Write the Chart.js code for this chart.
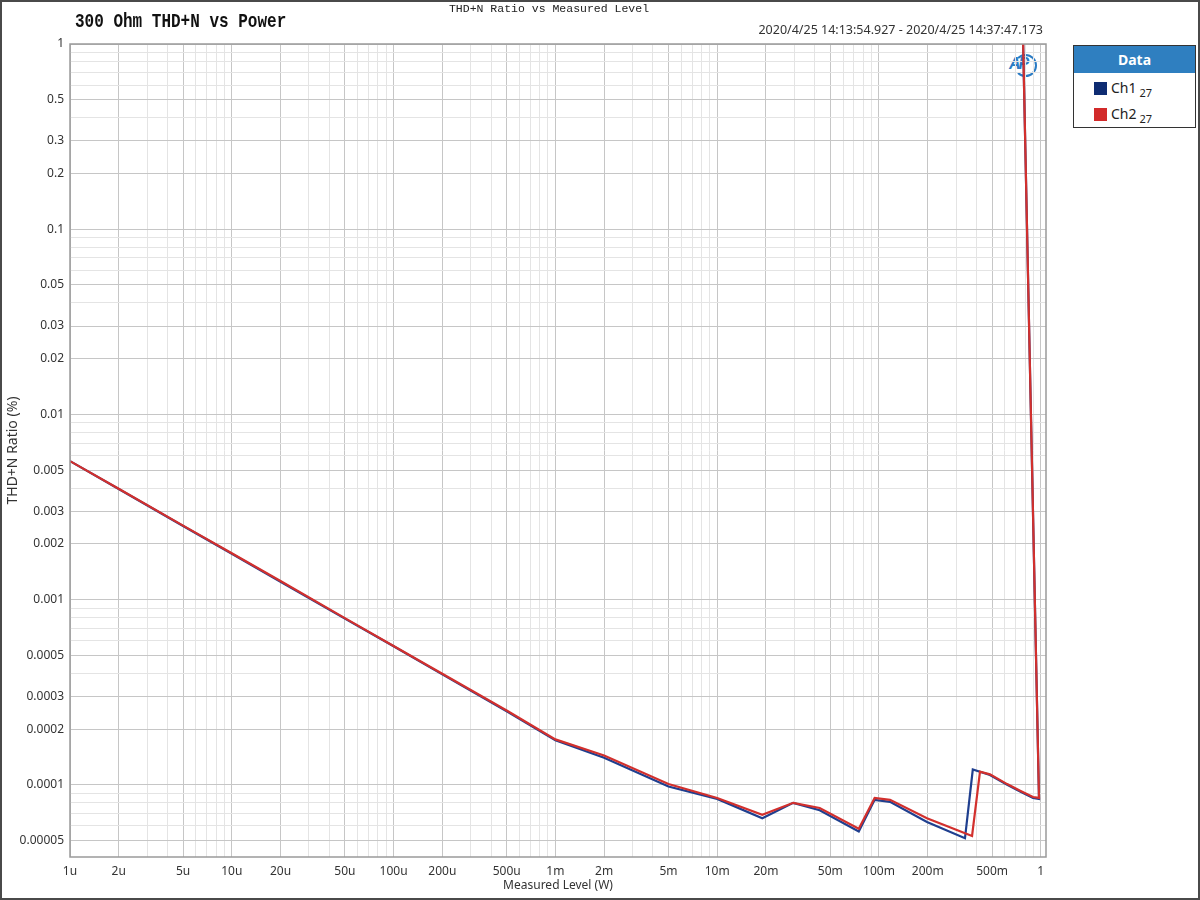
<!DOCTYPE html>
<html>
<head>
<meta charset="utf-8">
<script src="https://cdn.jsdelivr.net/npm/chart.js@4.4.1/dist/chart.umd.min.js"></script>
<style>
html,body{margin:0;padding:0;background:#fff;}
#wrap{position:relative;width:1200px;height:900px;overflow:hidden;background:#fff;}
#frame{position:absolute;left:0;top:0;width:1200px;height:900px;box-sizing:border-box;border:2px solid #4a4a4a;pointer-events:none;z-index:5;}
#c{position:absolute;left:0;top:0;z-index:2;}
.title{position:absolute;left:75px;top:11px;font:bold 16px "Liberation Mono";color:#111;white-space:nowrap;z-index:3;transform:scaleY(1.22);transform-origin:0 0;}
.subtitle{position:absolute;left:0;width:1098px;text-align:center;top:2px;font:11.5px "Liberation Mono";color:#222;white-space:nowrap;z-index:3;}
.daterange{position:absolute;right:157px;top:21px;font:12.5px "Noto Sans";color:#333;white-space:nowrap;z-index:3;}
.legend{position:absolute;left:1073px;top:45px;width:123px;height:83px;box-sizing:border-box;border:1px solid #333;background:#fff;z-index:3;font-family:"Noto Sans";}
.legend .hd{height:27px;line-height:27px;background:#2f7fc0;color:#fff;font-weight:bold;font-size:14px;text-align:center;}
.legend .row{position:absolute;left:20px;height:18px;}
.legend .sw{position:absolute;left:0;top:2px;width:13px;height:13px;}
.legend .lb{position:absolute;left:17px;top:-2px;font-size:14px;color:#222;white-space:nowrap;}
.legend .lb sub{font-size:11px;vertical-align:-4px;margin-left:3px;}
.aplogo{position:absolute;left:1009px;top:54px;width:26px;height:22px;z-index:1;}
.aplogo .ring{position:absolute;left:5px;top:0;width:19px;height:19px;border:2px solid #2a7bc4;border-left-color:transparent;border-radius:50%;}
.aplogo .tx{position:absolute;left:0;top:1px;font:italic bold 16px "Liberation Sans";color:#2a7bc4;letter-spacing:-2px;}
</style>
</head>
<body>
<div id="wrap">
  <div class="aplogo"><div class="ring"></div><div class="tx">AP</div></div>
  <canvas id="c" width="1200" height="900"></canvas>
  <div class="subtitle">THD+N Ratio vs Measured Level</div>
  <div class="title">300 Ohm THD+N vs Power</div>
  <div class="daterange">2020/4/25 14:13:54.927 - 2020/4/25 14:37:47.173</div>
  <div class="legend" id="legend"><div class="hd">Data</div></div>
  <div id="frame"></div>
</div>
<script>
// ---- data ----
const seriesNames = ['Ch1', 'Ch2'];
const seriesSub = ['27', '27'];
const seriesColors = ['#1f3f8f', '#d2302d'];
const legendColors = ['#0e2c72', '#d22a2a'];

const ch1X = [1e-6, 2e-6, 5e-6, 1e-5, 2e-5, 5e-5, 1e-4, 2e-4, 5e-4, 1e-3, 2e-3, 5e-3, 1e-2, 0.019, 0.0295, 0.043, 0.075, 0.094, 0.117, 0.198, 0.34, 0.38, 0.485, 0.62, 0.745, 0.895, 0.975, 0.74];
const ch1Y = [5.6e-3, 3.96e-3, 2.5e-3, 1.77e-3, 1.25e-3, 7.9e-4, 5.6e-4, 3.95e-4, 2.5e-4, 1.74e-4, 1.40e-4, 9.8e-5, 8.4e-5, 6.6e-5, 8.0e-5, 7.3e-5, 5.6e-5, 8.3e-5, 8.1e-5, 6.3e-5, 5.15e-5, 1.21e-4, 1.13e-4, 1.0e-4, 9.2e-5, 8.5e-5, 8.4e-5, 8.0];

const ch2X = [1e-6, 2e-6, 5e-6, 1e-5, 2e-5, 5e-5, 1e-4, 2e-4, 5e-4, 1e-3, 2e-3, 5e-3, 1e-2, 0.019, 0.0295, 0.043, 0.075, 0.094, 0.117, 0.198, 0.376, 0.421, 0.485, 0.62, 0.745, 0.895, 0.975, 0.74];
const ch2Y = [5.6e-3, 3.97e-3, 2.51e-3, 1.78e-3, 1.26e-3, 7.95e-4, 5.62e-4, 3.98e-4, 2.52e-4, 1.76e-4, 1.44e-4, 1.01e-4, 8.5e-5, 6.9e-5, 8.0e-5, 7.5e-5, 5.8e-5, 8.5e-5, 8.3e-5, 6.6e-5, 5.3e-5, 1.18e-4, 1.14e-4, 1.01e-4, 9.3e-5, 8.6e-5, 8.5e-5, 8.0];

const xTickValues = [1e-6, 2e-6, 5e-6, 1e-5, 2e-5, 5e-5, 1e-4, 2e-4, 5e-4, 1e-3, 2e-3, 5e-3, 1e-2, 2e-2, 5e-2, 0.1, 0.2, 0.5, 1];
const xTickLabels = ['1u', '2u', '5u', '10u', '20u', '50u', '100u', '200u', '500u', '1m', '2m', '5m', '10m', '20m', '50m', '100m', '200m', '500m', '1'];
const yTickValues = [1, 0.5, 0.3, 0.2, 0.1, 0.05, 0.03, 0.02, 0.01, 0.005, 0.003, 0.002, 0.001, 0.0005, 0.0003, 0.0002, 0.0001, 0.00005];
const yTickLabels = ['1', '0.5', '0.3', '0.2', '0.1', '0.05', '0.03', '0.02', '0.01', '0.005', '0.003', '0.002', '0.001', '0.0005', '0.0003', '0.0002', '0.0001', '0.00005'];

const xMin = 1e-6, xMax = 1.077;
const yMin = 4.08e-5, yMax = 1;

// ---- helpers ----
function gridValues(min, max) {
  const out = [];
  for (let e = Math.floor(Math.log10(min)); e <= Math.ceil(Math.log10(max)); e++) {
    for (let m = 1; m <= 9; m++) {
      const v = parseFloat((m * Math.pow(10, e)).toPrecision(6));
      if (v >= min * 0.9999 && v <= max * 1.0001) out.push(v);
    }
  }
  return out;
}
function findIdx(arr, v) { return arr.findIndex(t => Math.abs(t - v) / t < 1e-6); }

// legend
const lg = document.getElementById('legend');
seriesNames.forEach((n, i) => {
  const r = document.createElement('div');
  r.className = 'row';
  r.style.top = (34 + i * 26) + 'px';
  r.innerHTML = '<div class="sw" style="background:' + legendColors[i] + '"></div><div class="lb">' + n + '<sub>' + seriesSub[i] + '</sub></div>';
  lg.appendChild(r);
});

const plotFrame = {
  id: 'plotFrame',
  afterDraw(chart) {
    const { ctx, chartArea: a } = chart;
    ctx.save();
    ctx.strokeStyle = '#9a9a9a';
    ctx.lineWidth = 1.5;
    ctx.strokeRect(a.left, a.top, a.right - a.left, a.bottom - a.top);
    ctx.restore();
  }
};

const tickFont = { family: 'Noto Sans', size: 12 };

new Chart(document.getElementById('c'), {
  type: 'line',
  data: {
    datasets: [
      { label: seriesNames[0], data: ch1X.map((x, i) => ({ x, y: ch1Y[i] })), borderColor: seriesColors[0], borderWidth: 2.2, pointRadius: 0, fill: false, tension: 0, order: 1 },
      { label: seriesNames[1], data: ch2X.map((x, i) => ({ x, y: ch2Y[i] })), borderColor: seriesColors[1], borderWidth: 2.2, pointRadius: 0, fill: false, tension: 0, order: 0 }
    ]
  },
  options: {
    responsive: false,
    animation: false,
    devicePixelRatio: 1,
    layout: { padding: { left: 4, top: 44, right: 154, bottom: 7 } },
    plugins: { legend: { display: false }, tooltip: { enabled: false }, title: { display: false } },
    scales: {
      x: {
        type: 'logarithmic', min: xMin, max: xMax,
        afterBuildTicks(s) { s.ticks = gridValues(xMin, xMax).map(v => ({ value: v })); },
        afterFit(s) { s.height = 36; },
        ticks: {
          autoSkip: false, maxRotation: 0, padding: 7, color: '#333', font: tickFont,
          callback(v) { const i = findIdx(xTickValues, v); return i >= 0 ? xTickLabels[i] : ''; }
        },
        grid: {
          drawTicks: false,
          color(ctx) { return (ctx.tick && findIdx(xTickValues, ctx.tick.value) >= 0) ? '#c6c6c6' : '#e4e4e4'; },
          lineWidth: 1
        },
        border: { display: false },
        title: { display: true, text: 'Measured Level (W)', color: '#333', font: tickFont, padding: { top: 0, bottom: 0 } }
      },
      y: {
        type: 'logarithmic', min: yMin, max: yMax,
        afterBuildTicks(s) { s.ticks = gridValues(yMin, yMax).map(v => ({ value: v })); },
        afterFit(s) { s.width = 66; },
        ticks: {
          autoSkip: false, padding: 6, color: '#333', font: tickFont,
          callback(v) { const i = findIdx(yTickValues, v); return i >= 0 ? yTickLabels[i] : ''; }
        },
        grid: {
          drawTicks: false,
          color(ctx) { return (ctx.tick && findIdx(yTickValues, ctx.tick.value) >= 0) ? '#c6c6c6' : '#e4e4e4'; },
          lineWidth: 1
        },
        border: { display: false },
        title: { display: true, text: 'THD+N Ratio (%)', color: '#333', font: { family: 'Noto Sans', size: 14 }, padding: { top: 1, bottom: 0 } }
      }
    }
  },
  plugins: [plotFrame]
});
</script>
</body>
</html>
